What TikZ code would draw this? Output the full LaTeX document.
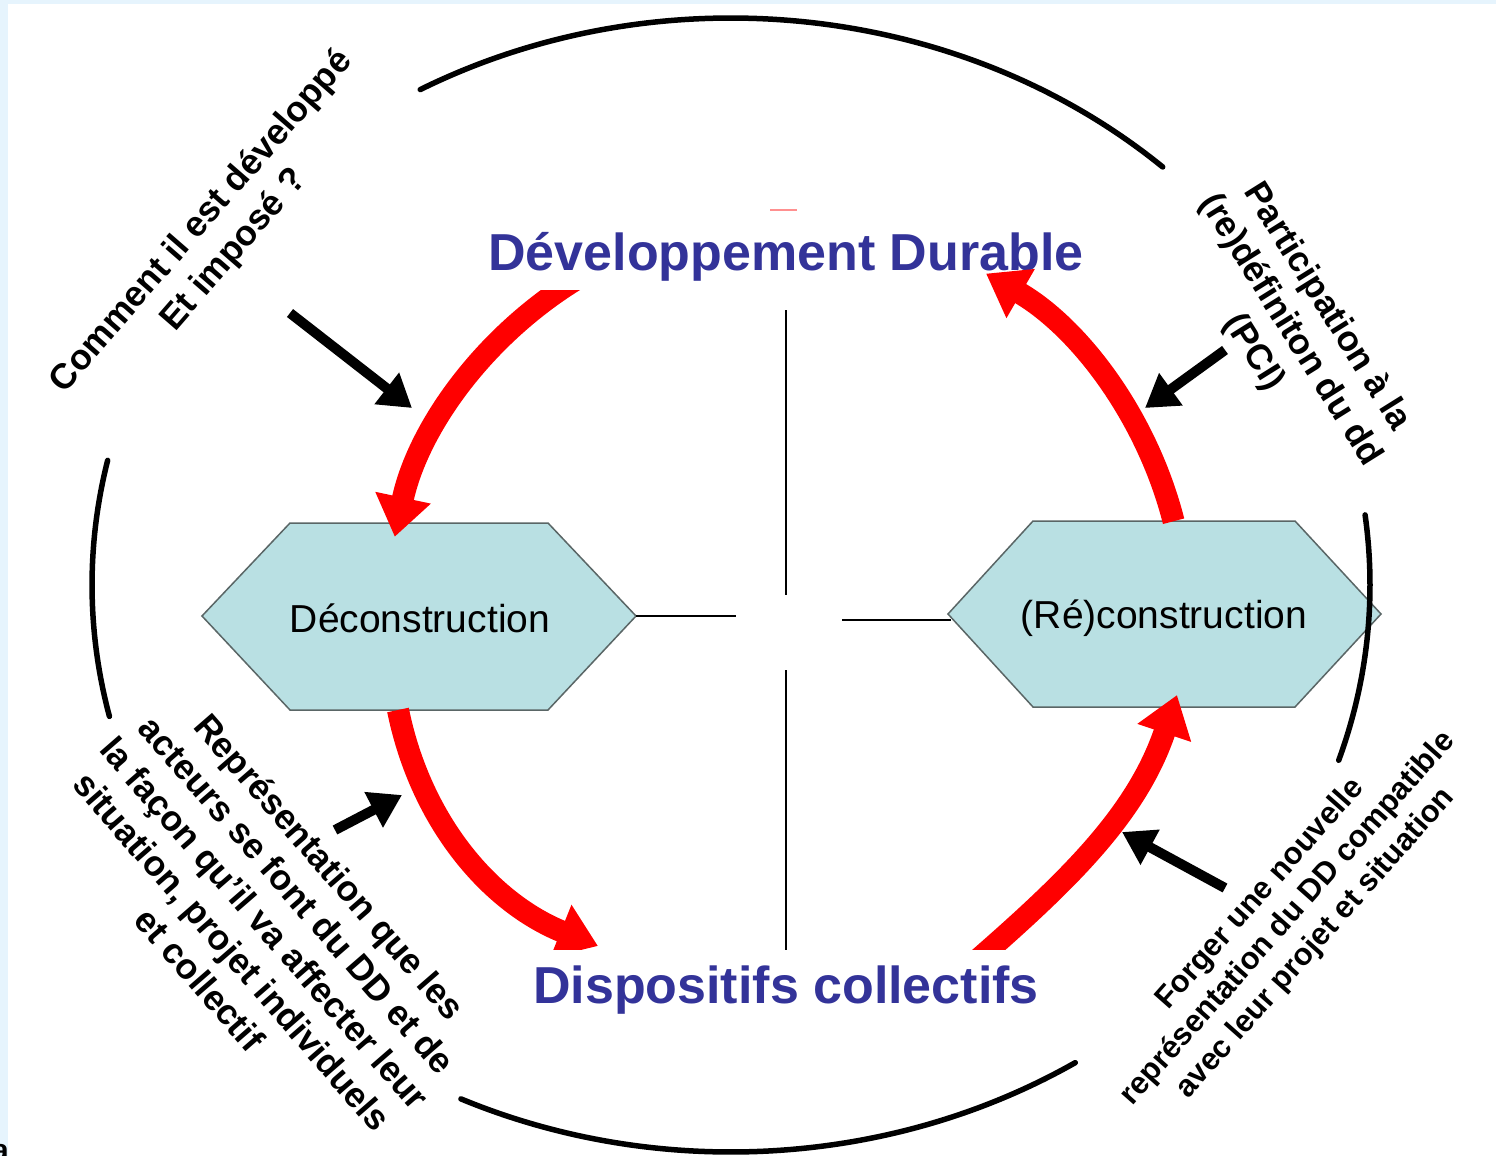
\documentclass[tikz,border=0pt]{standalone}
\usepackage{fontspec}
\setmainfont{Liberation Sans}
\usetikzlibrary{arrows.meta}
\definecolor{bgblue}{HTML}{E6F4FD}
\definecolor{titleblue}{HTML}{333399}
\definecolor{hexfill}{HTML}{B9E0E3}
\definecolor{hexline}{HTML}{5A6666}
\definecolor{dashred}{HTML}{FF9090}
\begin{document}
\begin{tikzpicture}[x=1pt,y=-1pt,
  redarrow/.style={draw=red, line width=22pt, -{Triangle[length=40pt,width=54pt]}},
  blackarrow/.style={draw=black, line width=10pt, -{Triangle[length=32pt,width=38pt]}},
  outerarc/.style={draw=black, line width=5.5pt, line cap=round},
  thinline/.style={draw=black, line width=1.4pt},
  hexshape/.style={fill=hexfill, draw=hexline, line width=1.5pt, line join=miter},
  hextext/.style={font=\fontsize{39}{45}\selectfont, inner sep=0pt, anchor=base},
  titletext/.style={font=\fontsize{52}{60}\selectfont\bfseries, text=titleblue, fill=white, inner xsep=2pt, inner ysep=0pt, anchor=base},
  sidetext/.style={font=\fontsize{35.5}{43}\selectfont\bfseries, align=center, inner sep=0pt},
]
\useasboundingbox (0,0) rectangle (1496,1156);
% background
\fill[bgblue] (0,0) rectangle (1496,1156);
\fill[white] (8,4) rectangle (1496,1156);
\node[font=\fontsize{30}{30}\selectfont\bfseries, anchor=base east, inner sep=0pt] (stray) at (9,1160) {a};

% central cross lines
\coordinate (vTop) at (786,310);
\coordinate (vMidA) at (786,595);
\coordinate (vMidB) at (786,670);
\coordinate (vBot) at (786,950);
\coordinate (gapL) at (736,616);
\coordinate (gapR) at (842,620);
\draw[thinline] (vTop) -- (vMidA);
\draw[thinline] (vMidB) -- (vBot);

% left hexagon
\coordinate (decW) at (202,616);
\coordinate (decE) at (636,616);
\path[hexshape] (decW) -- (290,523) -- (548,523) -- (decE) -- (548,710) -- (290,710) -- cycle;
\node[hextext] (dec) at (420,632) {Déconstruction};
% right hexagon
\coordinate (recW) at (948,614);
\coordinate (recE) at (1381,614);
\coordinate (recWl) at (951,620);
\path[hexshape] (recW) -- (1033,521) -- (1295,521) -- (recE) -- (1295,707) -- (1033,707) -- cycle;
\node[hextext] (rec) at (1164,628) {(Ré)construction};
\draw[thinline] (decE) -- (gapL);
\draw[thinline] (gapR) -- (recWl);

% outer broken ellipse
\coordinate (c0) at (731,585);
\draw[outerarc] ([shift={(-119.1:639 and 567)}]c0) arc[start angle=-119.1, end angle=-47.5, x radius=639, y radius=567];
\draw[outerarc] ([shift={(-7.1:639 and 567)}]c0) arc[start angle=-7.1, end angle=18, x radius=639, y radius=567];
\draw[outerarc] ([shift={(57.4:639 and 567)}]c0) arc[start angle=57.4, end angle=115, x radius=639, y radius=567];
\draw[outerarc] ([shift={(166.6:639 and 567)}]c0) arc[start angle=166.6, end angle=192.7, x radius=639, y radius=567];

% red arrows (cycle round the centre of the cross)
\coordinate (cR) at (786,620);
\coordinate (r1s) at ([shift={(-120:400)}]cR);
\draw[redarrow] (r1s) arc[start angle=-120, end angle=-168, radius=400];
\coordinate (r3s) at (398,710);
\coordinate (r3e) at (598,946);
\draw[redarrow] (r3s) .. controls (421,823) and (491,903) .. (r3e);
\coordinate (r4s) at (975,962);
\coordinate (r4e) at (1177,695);
\draw[redarrow] (r4s) .. controls (1069,880) and (1137,814) .. (r4e);

% titles
\draw[dashred, line width=2pt] (770,210) -- (797,210);
\node[titletext, text height=45pt, text depth=20pt] (dd) at (786,270) {Développement Durable};
\node[titletext, text height=53pt, text depth=15pt] (dc) at (786,1003) {Dispositifs collectifs};

\coordinate (r2s) at ([shift={(-14.3:400)}]cR);
\draw[redarrow] (r2s) arc[start angle=-14.3, end angle=-60, radius=400];

% black arrows
\coordinate (b1s) at (290,313);
\coordinate (b1e) at (412,408);
\coordinate (b2s) at (1225,350);
\coordinate (b2e) at (1145,408);
\coordinate (b3s) at (335,830);
\coordinate (b3e) at (402,795);
\coordinate (b4s) at (1225,888);
\coordinate (b4e) at (1122,832);
\draw[blackarrow] (b1s) -- (b1e);
\draw[blackarrow] (b2s) -- (b2e);
\draw[blackarrow] (b3s) -- (b3e);
\draw[blackarrow] (b4s) -- (b4e);

% side texts
\node[sidetext, rotate=49] (q1) at (218,236) {Comment il est développé\\Et imposé ?};
\node[sidetext, rotate=-58] (q2) at (1290,330) {Participation à la\\(re)définiton du dd\\(PCI)};
\node[sidetext, rotate=-49] (q3) at (265,923) {Représentation que les\\acteurs se font du DD et de\\la façon qu’il va affecter leur\\situation, projet individuels\\et collectif};
\node[sidetext, font=\fontsize{31}{37}\selectfont\bfseries, rotate=48.5] (q4) at (1288,919) {Forger une nouvelle\\représentation du DD compatible\\avec leur projet et situation};
\end{tikzpicture}
\end{document}
